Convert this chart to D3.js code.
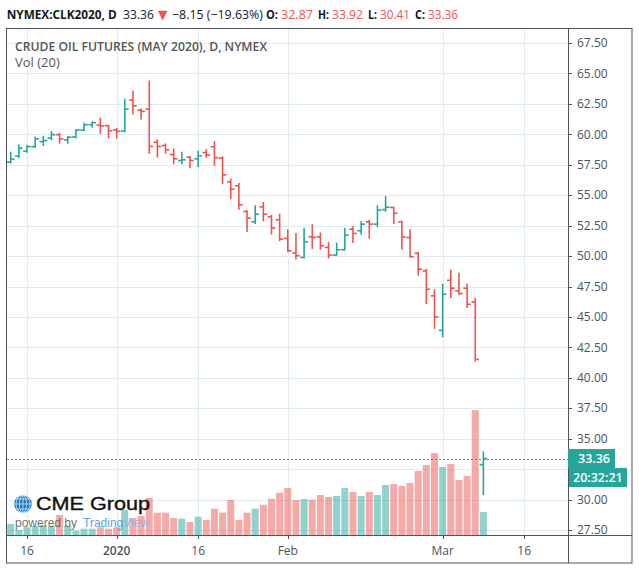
<!DOCTYPE html>
<html><head><meta charset="utf-8">
<script src="https://cdn.jsdelivr.net/npm/d3@7"></script>
<style>
html,body{margin:0;padding:0;background:#fff;}
svg{display:block;font-family:"Open Sans",Roboto,sans-serif;}
</style></head><body>
<svg id="chart" width="639" height="570"></svg>
<script>
// ---------- DATA ----------
const dates = ["2019-12-12","2019-12-13","2019-12-16","2019-12-17","2019-12-18","2019-12-19","2019-12-20","2019-12-23","2019-12-24","2019-12-26","2019-12-27","2019-12-30","2019-12-31",
"2020-01-02","2020-01-03","2020-01-06","2020-01-07","2020-01-08","2020-01-09","2020-01-10","2020-01-13","2020-01-14","2020-01-15","2020-01-16","2020-01-17","2020-01-21","2020-01-22","2020-01-23","2020-01-24","2020-01-27","2020-01-28","2020-01-29","2020-01-30","2020-01-31",
"2020-02-03","2020-02-04","2020-02-05","2020-02-06","2020-02-07","2020-02-10","2020-02-11","2020-02-12","2020-02-13","2020-02-14","2020-02-18","2020-02-19","2020-02-20","2020-02-21","2020-02-24","2020-02-25","2020-02-26","2020-02-27","2020-02-28",
"2020-03-02","2020-03-03","2020-03-04","2020-03-05","2020-03-06","2020-03-09"];
const open  = [57.72,58.21,58.61,58.99,59.40,59.70,59.97,59.54,59.78,60.35,60.79,60.76,60.71,
60.35,60.27,62.80,61.98,62.07,59.35,59.08,58.34,57.85,58.13,57.99,58.50,58.98,58.05,56.09,55.77,53.66,52.81,54.04,53.22,52.98,
51.45,50.25,49.89,51.58,51.58,50.71,50.08,50.52,52.21,52.08,52.81,52.62,53.82,53.99,52.81,51.52,50.23,48.78,46.73,
43.90,48.01,47.14,47.36,46.23,32.87];
const high  = [58.53,59.13,59.08,59.76,59.84,60.22,60.08,59.81,60.38,60.90,61.03,61.33,60.71,
60.49,62.88,63.56,62.07,64.38,59.54,59.21,58.80,58.53,58.18,58.61,58.75,59.40,58.14,56.31,55.96,53.72,54.13,54.40,53.36,53.44,
52.16,51.86,52.27,52.57,51.89,51.12,51.07,52.27,52.40,52.81,52.95,54.13,54.88,54.02,52.85,52.16,50.29,48.92,47.22,
47.68,48.84,48.59,47.68,46.53,33.92];
const low   = [57.64,58.10,58.53,58.94,59.08,59.54,59.27,59.27,59.70,60.30,60.57,60.08,59.70,
59.70,60.22,61.66,61.25,58.45,58.13,58.45,57.58,57.58,57.26,57.36,58.10,57.46,55.96,54.73,53.85,52.02,52.68,52.90,51.80,51.26,
50.38,49.75,49.84,50.63,50.57,49.84,50.08,50.52,51.12,51.80,51.48,52.40,53.68,52.68,50.57,49.92,48.42,46.10,44.07,
43.36,46.59,46.86,45.77,41.38,30.41];
const close = [57.96,58.86,58.99,59.62,59.48,59.97,59.62,59.76,60.35,60.79,60.95,60.68,60.30,
60.24,62.07,62.34,61.88,59.00,59.00,58.72,57.99,57.91,57.85,58.24,58.30,58.08,56.67,55.49,54.21,53.11,53.44,53.44,52.30,51.39,
50.44,50.03,51.17,51.53,50.85,50.08,50.52,51.72,51.86,52.62,52.62,53.77,54.02,53.51,51.58,49.95,48.92,47.27,45.00,
46.86,47.36,46.92,46.04,41.51,33.36];
const volume = [11000,5000,7700,9000,9700,9000,20000,9000,4300,6300,6300,7700,6300,
7700,25000,17000,19000,37000,22300,22300,17000,16300,13000,18300,15000,26300,22300,35000,15000,22300,26300,30300,36300,42300,
47000,35000,36000,35300,40000,38000,39000,47000,43000,39000,43000,40000,50000,51000,49000,52000,64000,70000,82000,
68000,71000,55000,59000,125000,23000];
const priceTicks = [27.5,30,32.5,35,37.5,40,42.5,45,47.5,50,52.5,55,57.5,60,62.5,65,67.5];
const timeTicks = [
  {date:"2019-12-16", label:"16", bold:false},
  {date:"2020-01-02", label:"2020", bold:true},
  {date:"2020-01-16", label:"16", bold:false},
  {date:"2020-02-03", label:"Feb", bold:false},
  {date:"2020-03-02", label:"Mar", bold:false},
  {date:"2020-03-16", label:"16", bold:false}
];
const symbol = "NYMEX:CLK2020, D";
const seriesTitle = "CRUDE OIL FUTURES (MAY 2020), D, NYMEX";
const volTitle = "Vol (20)";
const countdown = "20:32:21";

// ---------- LAYOUT ----------
const L = 7, R = 568, T = 28, B = 535, FR = 632, FB = 563;
const UP = "#26a69a", DOWN = "#ef5350";
const GRID = "#e1ecf2", AXIS = "#50535e", TXT = "#4c525e";

const svg = d3.select("#chart");
const n = dates.length;

function tIndex(ds){
  const i = dates.indexOf(ds);
  if (i >= 0) return i;
  let d = new Date(dates[n-1] + "T12:00:00Z"), target = new Date(ds + "T12:00:00Z"), k = n-1;
  while (d < target){ d = new Date(d.getTime()+86400000); const wd = d.getUTCDay(); if (wd !== 0 && wd !== 6) k++; }
  return k;
}

const x = d3.scaleLinear().domain([0, n-1]).range([10.7, 483.4]);
const y = d3.scaleLinear().domain([27.5, 67.5]).range([530, 43]);
const yVol = d3.scaleLinear().domain([0, 125000]).range([B, 410]);

const plot = svg.append("g");
plot.append("clipPath").attr("id","clip").append("rect").attr("x",L).attr("y",T).attr("width",R-L).attr("height",B-T);

// grid
const grid = plot.append("g");
grid.selectAll("line.h").data(priceTicks).join("line")
  .attr("x1",L).attr("x2",R).attr("y1",d=>Math.round(y(d))+0.5).attr("y2",d=>Math.round(y(d))+0.5)
  .attr("stroke",GRID).attr("stroke-width",1);
grid.selectAll("line.v").data(timeTicks).join("line")
  .attr("x1",d=>Math.round(x(tIndex(d.date)))+0.5).attr("x2",d=>Math.round(x(tIndex(d.date)))+0.5)
  .attr("y1",T).attr("y2",B).attr("stroke",GRID).attr("stroke-width",1);

const idx = d3.range(n);
const isUp = i => close[i] >= open[i];

// volume
const g = plot.append("g").attr("clip-path","url(#clip)");
g.selectAll("rect.vol").data(idx).join("rect")
  .attr("x", i => x(i) - 3.5).attr("width", 7)
  .attr("y", i => yVol(volume[i])).attr("height", i => B - yVol(volume[i]))
  .attr("fill", i => isUp(i) ? UP : DOWN).attr("fill-opacity", 0.5);

// OHLC bars
const bars = g.selectAll("g.bar").data(idx).join("g")
  .attr("stroke", i => isUp(i) ? UP : DOWN).attr("stroke-width", 1.6);
bars.append("line").attr("x1", i=>x(i)).attr("x2", i=>x(i)).attr("y1", i=>y(high[i])-0.5).attr("y2", i=>y(low[i])+0.5);
bars.append("line").attr("x1", i=>x(i)-3.8).attr("x2", i=>x(i)).attr("y1", i=>y(open[i])).attr("y2", i=>y(open[i]));
bars.append("line").attr("x1", i=>x(i)).attr("x2", i=>x(i)+3.8).attr("y1", i=>y(close[i])).attr("y2", i=>y(close[i]));

// last price line
const last = close[n-1];
plot.append("line").attr("x1",L).attr("x2",R).attr("y1",Math.round(y(last))+0.5).attr("y2",Math.round(y(last))+0.5)
  .attr("stroke",UP).attr("stroke-width",1).attr("stroke-dasharray","2,2");

// logo (over volume)
const logo = svg.append("g");
const gc = {x:23, y:504, r:8.8};
logo.append("circle").attr("cx",gc.x).attr("cy",gc.y).attr("r",gc.r).attr("fill","#1b75bc");
[-5,0,5].forEach(dy=>{
  logo.append("line").attr("x1",gc.x-Math.sqrt(gc.r*gc.r-dy*dy)).attr("x2",gc.x+Math.sqrt(gc.r*gc.r-dy*dy))
    .attr("y1",gc.y+dy).attr("y2",gc.y+dy).attr("stroke","#bfe3f8").attr("stroke-width",0.9);
});
[3.5,7].forEach(rx=>{
  logo.append("ellipse").attr("cx",gc.x).attr("cy",gc.y).attr("rx",rx).attr("ry",gc.r).attr("fill","none").attr("stroke","#bfe3f8").attr("stroke-width",0.9);
});
logo.append("line").attr("x1",gc.x).attr("x2",gc.x).attr("y1",gc.y-gc.r).attr("y2",gc.y+gc.r).attr("stroke","#bfe3f8").attr("stroke-width",0.9);
logo.append("text").attr("x",36).attr("y",509.5).attr("font-family","'Liberation Sans', Arial, sans-serif")
  .attr("font-size",17.5).attr("font-weight",400).attr("fill","#111")
  .attr("stroke","#111").attr("stroke-width",0.35)
  .attr("textLength",114).attr("lengthAdjust","spacingAndGlyphs").text("CME Group");
const pb = logo.append("text").attr("x",15).attr("y",527).attr("font-family","'Liberation Sans', Arial, sans-serif")
  .attr("font-size",12).attr("fill","#555").attr("fill-opacity",0.85);
pb.append("tspan").text("powered by ");
pb.append("tspan").attr("x",83).attr("fill","#3a8ee6").text("Trading");
pb.append("tspan").attr("fill","#7fb6ef").text("View");

// frame & axes
svg.append("rect").attr("x",L-0.5).attr("y",T+0.5).attr("width",FR-L+0.5).attr("height",FB-T-0.5)
  .attr("fill","none").attr("stroke",AXIS).attr("stroke-width",1);
svg.append("line").attr("x1",R+0.5).attr("x2",R+0.5).attr("y1",T).attr("y2",FB).attr("stroke",AXIS);
svg.append("line").attr("x1",L).attr("x2",FR).attr("y1",B+0.5).attr("y2",B+0.5).attr("stroke",AXIS);

// price axis labels (hide those overlapped by price/countdown boxes)
const yl = y(last);
const boxTop = Math.round(yl) - 10, boxH = 19;
const ax = svg.append("g");
const visTicks = priceTicks.filter(p => { const py = y(p); return !(py > boxTop - 6 && py < boxTop + 2*boxH + 6); });
ax.selectAll("line").data(priceTicks).join("line")
  .attr("x1",R).attr("x2",R+4).attr("y1",d=>Math.round(y(d))+0.5).attr("y2",d=>Math.round(y(d))+0.5).attr("stroke",AXIS);
ax.selectAll("text").data(visTicks).join("text")
  .attr("x",577).attr("y",d=>y(d)).attr("dy","0.35em").attr("font-size",12).attr("fill",TXT)
  .text(d=>d.toFixed(2));

// price label & countdown
svg.append("rect").attr("x",R).attr("y",boxTop).attr("width",47).attr("height",boxH).attr("fill",UP);
svg.append("text").attr("x",578).attr("y",boxTop+boxH/2).attr("dy","0.35em").attr("font-size",12.5).attr("font-weight",600)
  .attr("fill","#fff").text(last.toFixed(2));
svg.append("rect").attr("x",R+1).attr("y",boxTop+boxH).attr("width",58).attr("height",boxH).attr("fill",UP);
svg.append("text").attr("x",573).attr("y",boxTop+boxH*1.5).attr("dy","0.35em").attr("font-size",12.5).attr("font-weight",600)
  .attr("fill","#fff").text(countdown);

// time axis
const tx = svg.append("g");
tx.selectAll("line").data(timeTicks).join("line")
  .attr("x1",d=>Math.round(x(tIndex(d.date)))+0.5).attr("x2",d=>Math.round(x(tIndex(d.date)))+0.5)
  .attr("y1",B).attr("y2",B+4).attr("stroke",AXIS);
tx.selectAll("text").data(timeTicks).join("text")
  .attr("x",d=>x(tIndex(d.date))).attr("y",555).attr("text-anchor","middle")
  .attr("font-size",12).attr("font-weight",d=>d.bold?600:400).attr("fill",TXT).text(d=>d.label);

// header legend
const chg = close[n-1] - close[n-2];
const pct = chg / close[n-2] * 100;
const fmt = v => (v<0?"\u2212":"") + Math.abs(v).toFixed(2);
const segs = [
  {t:symbol, x:6.7, w:110, bold:true, c:"#131722", fs:12.5},
  {t:last.toFixed(2), x:123, w:31, c:"#131722"},
  {t:"\u25BC", x:158, w:9.5, c:DOWN, fs:13},
  {t:fmt(chg)+" ("+fmt(pct)+"%)", x:172, w:91, c:"#131722"},
  {t:"O:", x:266, w:12, bold:true, c:"#131722"},
  {t:open[n-1].toFixed(2), x:281, w:32, c:DOWN},
  {t:"H:", x:318, w:11, bold:true, c:"#131722"},
  {t:high[n-1].toFixed(2), x:332, w:31, c:DOWN},
  {t:"L:", x:368, w:9, bold:true, c:"#131722"},
  {t:low[n-1].toFixed(2), x:380, w:30, c:DOWN},
  {t:"C:", x:415, w:10, bold:true, c:"#131722"},
  {t:close[n-1].toFixed(2), x:428, w:30, c:DOWN}
];
const hd = svg.append("g");
segs.forEach(s=>{
  hd.append("text").attr("x",s.x).attr("y",19).attr("font-size",s.fs||12.5).attr("font-weight",s.bold?700:400)
    .attr("font-family", s.t === "\u25BC" ? "'DejaVu Sans', sans-serif" : null)
    .attr("fill",s.c).attr("textLength",s.w).attr("lengthAdjust","spacingAndGlyphs").text(s.t);
});

// legend inside pane
svg.append("text").attr("x",15).attr("y",50.5).attr("font-size",13).attr("font-weight",600).attr("fill","#555")
  .attr("textLength",252).attr("lengthAdjust","spacingAndGlyphs").text(seriesTitle);
svg.append("text").attr("x",15).attr("y",67).attr("font-size",13).attr("fill","#555").text(volTitle);
</script>
</body></html>
